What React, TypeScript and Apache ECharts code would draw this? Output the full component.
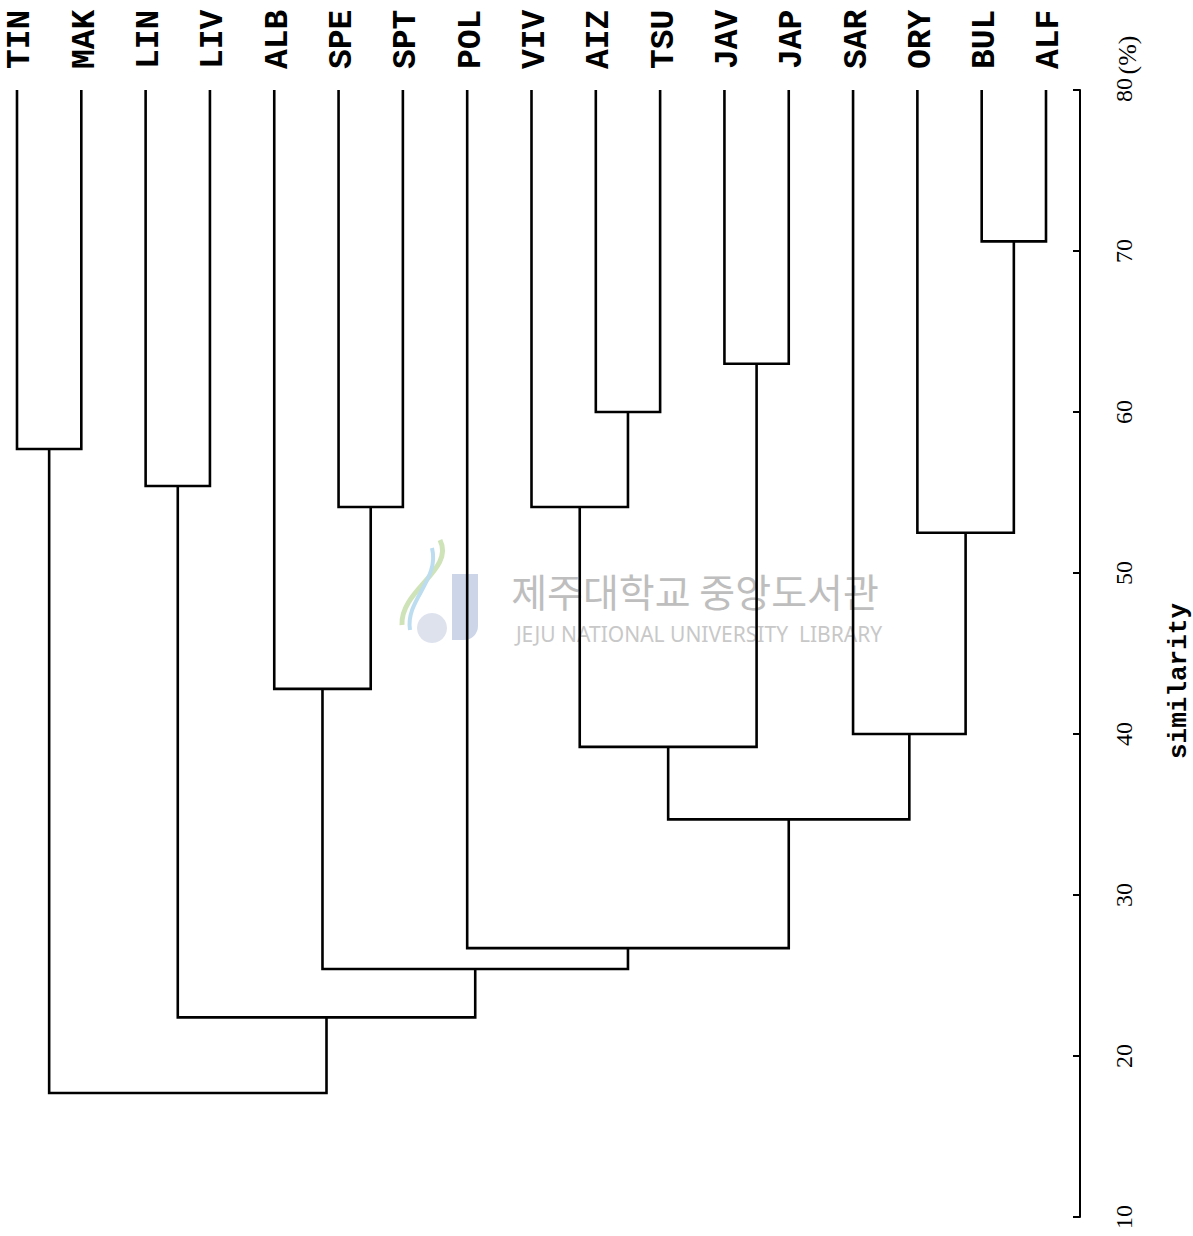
import React, { useEffect, useRef } from "react";
import * as echarts from "echarts";

const leaves = ["TIN", "MAK", "LIN", "LIV", "ALB", "SPE", "SPT", "POL", "VIV", "AIZ", "TSU", "JAV", "JAP", "SAR", "ORY", "BUL", "ALF"];
// linkage: cluster id of merge k is leaves.length + k
const mergeLeft = [15, 11, 9, 0, 2, 5, 8, 14, 13, 4, 23, 27, 7, 26, 21, 20];
const mergeRight = [16, 12, 10, 1, 3, 6, 19, 17, 24, 22, 18, 25, 28, 29, 30, 31];
const mergeSimilarity = [70.6, 63.0, 60.0, 57.7, 55.4, 54.1, 54.1, 52.5, 40.0, 42.8, 39.2, 34.7, 26.7, 25.4, 22.4, 17.7];
const leafSimilarity = 80;
const axisMin = 10;
const axisMax = 80;
const axisStep = 10;

function buildLinks() {
  const nx: number[] = leaves.map((_, i) => i);
  const nh: number[] = leaves.map(() => leafSimilarity);
  const links: number[][] = [];
  mergeLeft.forEach((a, k) => {
    const b = mergeRight[k];
    const s = mergeSimilarity[k];
    links.push([nx[a], nh[a], nx[b], nh[b], s]);
    nx.push((nx[a] + nx[b]) / 2);
    nh.push(s);
  });
  return links;
}

export default function App() {
  const ref = useRef<HTMLDivElement>(null);
  useEffect(() => {
    document.body.style.margin = "0";
    const chart = echarts.init(ref.current!, null, { renderer: "svg" });
    const links = buildLinks();
    chart.setOption({
      animation: false,
      backgroundColor: "#ffffff",
      grid: { left: 0, right: 113, top: 90, bottom: 19, containLabel: false },
      xAxis: { type: "value", min: -0.2643, max: 16.5287, show: false },
      yAxis: {
        type: "value",
        position: "right",
        min: axisMin,
        max: axisMax,
        interval: axisStep,
        axisLine: { show: true, onZero: false, lineStyle: { color: "#000", width: 2 } },
        axisTick: { show: true, inside: true, length: 7, lineStyle: { color: "#000", width: 2 } },
        splitLine: { show: false },
        axisLabel: {
          rotate: 90,
          margin: 32,
          fontFamily: "Liberation Serif",
          fontSize: 24,
          color: "#000",
        },
      },
      series: [
        {
          type: "custom",
          name: "links",
          coordinateSystem: "cartesian2d",
          clip: false,
          encode: { x: [0, 2], y: [1, 3, 4] },
          data: links,
          renderItem: (params: any, api: any) => {
            const x1 = api.value(0), h1 = api.value(1), x2 = api.value(2), h2 = api.value(3), h = api.value(4);
            const pts = [api.coord([x1, h1]), api.coord([x1, h]), api.coord([x2, h]), api.coord([x2, h2])];
            return {
              type: "polyline",
              shape: { points: pts },
              style: { stroke: "#000", lineWidth: 2.6, fill: "none" },
            };
          },
        },
        {
          type: "custom",
          name: "leaves",
          coordinateSystem: "cartesian2d",
          clip: false,
          encode: { x: 0, y: 1 },
          data: leaves.map((_, i) => [i, leafSimilarity]),
          renderItem: (params: any, api: any) => {
            const p = api.coord([api.value(0), api.value(1)]);
            return {
              type: "text",
              x: p[0] + 4,
              y: p[1] - 21,
              rotation: Math.PI / 2,
              style: {
                text: leaves[params.dataIndex],
                font: "bold 33px 'Liberation Mono'",
                fill: "#000",
                align: "left",
                verticalAlign: "middle",
              },
            };
          },
        },
      ],
      graphic: [
        {
          type: "text",
          x: 1127,
          y: 55,
          rotation: Math.PI / 2,
          style: { text: "(%)", font: "26px 'Liberation Serif'", fill: "#000", align: "center", verticalAlign: "middle" },
        },
        {
          type: "text",
          x: 1179,
          y: 681,
          rotation: Math.PI / 2,
          style: { text: "similarity", font: "bold 26px 'Liberation Mono'", fill: "#000", align: "center", verticalAlign: "middle" },
        },
        {
          type: "rect",
          shape: { x: 452, y: 574, width: 26, height: 66, r: [0, 0, 14, 0] },
          style: { fill: "#cdd6e8" },
          z: -1,
        },
        {
          type: "bezierCurve",
          shape: { x1: 440, y1: 540, x2: 402, y2: 625, cpx1: 455, cpy1: 570, cpx2: 400, cpy2: 590 },
          style: { stroke: "#cfe3b8", lineWidth: 5, fill: "none" },
          z: -1,
        },
        {
          type: "bezierCurve",
          shape: { x1: 432, y1: 548, x2: 410, y2: 630, cpx1: 440, cpy1: 580, cpx2: 405, cpy2: 600 },
          style: { stroke: "#bcdcef", lineWidth: 4, fill: "none" },
          z: -1,
        },
        {
          type: "circle",
          shape: { cx: 432, cy: 628, r: 15 },
          style: { fill: "#dde2ec" },
          z: -1,
        },
        {
          type: "text",
          x: 695,
          y: 590,
          style: { text: "제주대학교 중앙도서관", font: "39px 'Noto Sans CJK KR'", fill: "#bebebe", align: "center", verticalAlign: "middle" },
          z: -1,
        },
        {
          type: "text",
          x: 699,
          y: 634,
          style: { text: "JEJU NATIONAL UNIVERSITY  LIBRARY", font: "21px 'Noto Sans'", fill: "#c8c8c8", align: "center", verticalAlign: "middle" },
          z: -1,
        },
      ],
    });
    return () => chart.dispose();
  }, []);
  return <div ref={ref} style={{ width: 1193, height: 1236 }} />;
}
